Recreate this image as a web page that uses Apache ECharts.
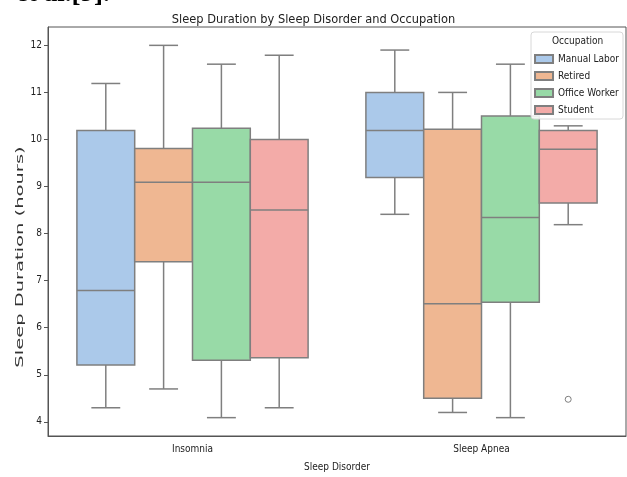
<!DOCTYPE html>
<html>
<head>
<meta charset="utf-8">
<script src="https://cdn.jsdelivr.net/npm/echarts@6/dist/echarts.min.js"></script>
<style>html,body{margin:0;padding:0;background:#fff}#c{width:627px;height:477px}</style>
</head>
<body>
<div id="c"></div>
<script>
// ---- data ----
const categories = ['Insomnia', 'Sleep Apnea'];
const occupations = ['Manual Labor', 'Retired', 'Office Worker', 'Student'];
// each entry: [lower whisker, Q1, median, Q3, upper whisker]
const manualLabor  = [[4.30, 5.21, 6.79, 10.19, 11.19], [8.41, 9.19, 10.19, 11.00, 11.90]];
const retired      = [[4.70, 7.40, 9.09, 9.81, 12.00], [4.20, 4.50, 6.51, 10.22, 11.00]];
const officeWorker = [[4.09, 5.31, 9.09, 10.24, 11.60], [4.09, 6.54, 8.34, 10.50, 11.60]];
const student      = [[4.30, 5.36, 8.50, 10.00, 11.79], [8.19, 8.65, 9.79, 10.19, 10.29]];
// outliers: [category index, occupation index, value]
const outliers = [[1, 3, 4.48]];
const yTicks = [4, 5, 6, 7, 8, 9, 10, 11, 12];

const seriesValues = [manualLabor, retired, officeWorker, student];
const colors = ['#abc9ea', '#efb792', '#98daa7', '#f3aba8'];
const lineColor = '#7f7f7f';
const FONT = "'DejaVu Sans Condensed', 'DejaVu Sans', sans-serif";

function boxRender(j) {
  return function (params, api) {
    const cat = api.value(0);
    const band = api.size([1, 0])[0];
    const slot = band * 0.8 / occupations.length;
    const cx = api.coord([cat, 0])[0] + (j - (occupations.length - 1) / 2) * slot;
    const y = [1, 2, 3, 4, 5].map(function (k) { return api.coord([cat, api.value(k)])[1]; });
    const half = slot / 2, cap = slot / 4;
    const ls = { stroke: lineColor, lineWidth: 1.5 };
    return {
      type: 'group',
      children: [
        { type: 'line', shape: { x1: cx, y1: y[0], x2: cx, y2: y[1] }, style: ls },
        { type: 'line', shape: { x1: cx, y1: y[3], x2: cx, y2: y[4] }, style: ls },
        { type: 'line', shape: { x1: cx - cap, y1: y[0], x2: cx + cap, y2: y[0] }, style: ls },
        { type: 'line', shape: { x1: cx - cap, y1: y[4], x2: cx + cap, y2: y[4] }, style: ls },
        { type: 'rect', shape: { x: cx - half, y: y[3], width: slot, height: y[1] - y[3] },
          style: { fill: colors[j], stroke: lineColor, lineWidth: 1.5 } },
        { type: 'line', shape: { x1: cx - half, y1: y[2], x2: cx + half, y2: y[2] }, style: ls }
      ]
    };
  };
}

function outlierRender(params, api) {
  const cat = api.value(0);
  const j = api.value(1);
  const band = api.size([1, 0])[0];
  const slot = band * 0.8 / occupations.length;
  const p = api.coord([cat, api.value(2)]);
  const cx = p[0] + (j - (occupations.length - 1) / 2) * slot;
  return { type: 'circle', shape: { cx: cx, cy: p[1], r: 3 },
           style: { fill: 'none', stroke: lineColor, lineWidth: 1 } };
}

const series = occupations.map(function (name, j) {
  return {
    name: name,
    type: 'custom',
    renderItem: boxRender(j),
    itemStyle: { color: colors[j], borderColor: lineColor, borderWidth: 1 },
    encode: { x: 0, y: [1, 2, 3, 4, 5] },
    data: seriesValues[j].map(function (v, i) { return [i].concat(v); }),
    z: 2
  };
});
series.push({
  name: 'outliers',
  type: 'custom',
  renderItem: outlierRender,
  encode: { x: 0, y: 2 },
  data: outliers,
  z: 3
});

const chart = echarts.init(document.getElementById('c'), null, { renderer: 'canvas' });
chart.setOption({
  animation: false,
  backgroundColor: '#fff',
  title: {
    text: 'Sleep Duration by Sleep Disorder and Occupation',
    left: 'center', top: 8,
    textStyle: { fontFamily: FONT, fontSize: 12.7, fontWeight: 'normal', color: '#222' }
  },
  graphic: [
    { type: 'text', left: 16, top: -19, z: 10,
      style: { text: 'et al.[9].', font: 'bold 27px "Liberation Serif", serif', fill: '#000' } },
    { type: 'text', left: 552, top: 36, z: 10,
      style: { text: 'Occupation', font: '10px ' + FONT, fill: '#222' } },
    { type: 'text', x: 20, y: 257, rotation: Math.PI / 2, scaleX: 1.95, z: 10,
      style: { text: 'Sleep Duration (hours)', font: "10px 'DejaVu Sans', sans-serif", fill: '#333',
               align: 'center', verticalAlign: 'middle' } }
  ],
  legend: {
    data: occupations,
    orient: 'vertical',
    right: 4, top: 32,
    padding: [22, 4, 4, 3],
    itemWidth: 18, itemHeight: 8, itemGap: 7,
    icon: 'rect',
    backgroundColor: 'rgba(255,255,255,0.85)',
    borderColor: '#d8d8d8', borderWidth: 1, borderRadius: 3,
    textStyle: { fontFamily: FONT, fontSize: 10, color: '#222' },
    z: 5
  },
  grid: { left: 48, right: 1, top: 27, bottom: 35, show: true, borderColor: '#555', borderWidth: 1, containLabel: false },
  xAxis: {
    type: 'category',
    data: categories,
    boundaryGap: true,
    name: 'Sleep Disorder', nameLocation: 'middle', nameGap: 26,
    nameTextStyle: { fontFamily: FONT, fontSize: 10, color: '#222' },
    axisLine: { lineStyle: { color: '#555' } },
    axisTick: { alignWithLabel: true, length: 4, lineStyle: { color: '#555' } },
    axisLabel: { fontFamily: FONT, fontSize: 10, color: '#222', margin: 8 },
    splitLine: { show: false }
  },
  yAxis: {
    type: 'value',
    min: 3.7, max: 12.39,
    axisLine: { show: true, lineStyle: { color: '#555' } },
    axisTick: { show: true, length: 4, customValues: yTicks, lineStyle: { color: '#555' } },
    axisLabel: { fontFamily: FONT, fontSize: 10, color: '#222', margin: 6, customValues: yTicks },
    splitLine: { show: false }
  },
  series: series
});
</script>
</body>
</html>
